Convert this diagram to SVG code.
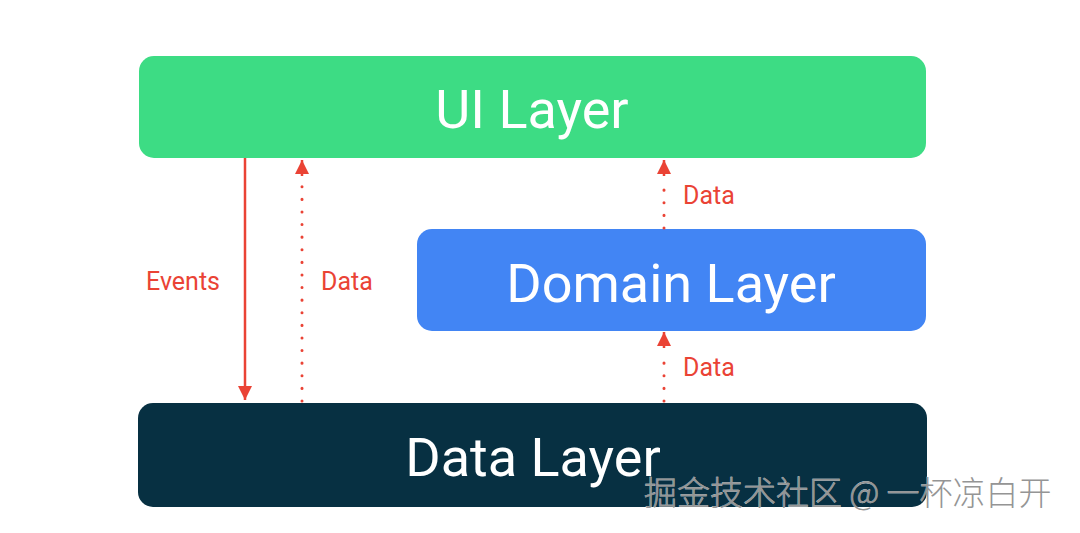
<svg xmlns="http://www.w3.org/2000/svg" width="1080" height="533" viewBox="0 0 1080 533">
<style>
.box-text{font-family:Roboto,"Noto Sans",sans-serif;font-size:54px;fill:#ffffff;text-anchor:middle;dominant-baseline:central}
.lbl{font-family:Roboto,"Noto Sans",sans-serif;font-size:25px;fill:#ea4335}
.solid{stroke:#ea4335;stroke-width:2.5;fill:none}
.dot{stroke:#ea4335;stroke-width:3;fill:none;stroke-dasharray:0.1 12.5;stroke-linecap:round}
.wm{font-family:"Noto Sans CJK SC","Noto Sans",sans-serif;font-size:33px;fill:#959595;stroke:#ffffff;stroke-width:0.4;paint-order:stroke;font-weight:300}
</style>
<defs>
<marker id="ah" viewBox="0 0 10 10" refX="10" refY="5" markerWidth="14" markerHeight="14" markerUnits="userSpaceOnUse" orient="auto">
<path d="M0,0 L10,5 L0,10 z" fill="#ea4335"/>
</marker>
</defs>
<rect width="1080" height="533" fill="#ffffff"/>
<g id="ui-layer">
<rect x="139" y="56" width="787" height="102" rx="15" fill="#3ddc84"/>
<text class="box-text" x="532" y="109">UI Layer</text>
</g>
<g id="domain-layer">
<rect x="417" y="229" width="509" height="102" rx="15" fill="#4285f4"/>
<text class="box-text" x="671" y="283">Domain Layer</text>
</g>
<g id="data-layer">
<rect x="138" y="403" width="789" height="104" rx="15" fill="#073042"/>
<text class="box-text" x="533" y="457">Data Layer</text>
</g>
<g id="connectors">
<line class="solid" x1="245" y1="158" x2="245" y2="400" marker-end="url(#ah)"/>
<line class="dot" x1="302" y1="401" x2="302" y2="180"/>
<line class="solid" x1="302" y1="176" x2="302" y2="160" marker-end="url(#ah)"/>
<line class="dot" x1="664" y1="228" x2="664" y2="180"/>
<line class="solid" x1="664" y1="176" x2="664" y2="160" marker-end="url(#ah)"/>
<line class="dot" x1="664" y1="401" x2="664" y2="352"/>
<line class="solid" x1="664" y1="348" x2="664" y2="332" marker-end="url(#ah)"/>
<text class="lbl" x="146" y="290">Events</text>
<text class="lbl" x="321" y="290">Data</text>
<text class="lbl" x="683" y="204">Data</text>
<text class="lbl" x="683" y="376">Data</text>
</g>
<text class="wm" x="644" y="505">掘金技术社区 @ 一杯凉白开</text>
</svg>
